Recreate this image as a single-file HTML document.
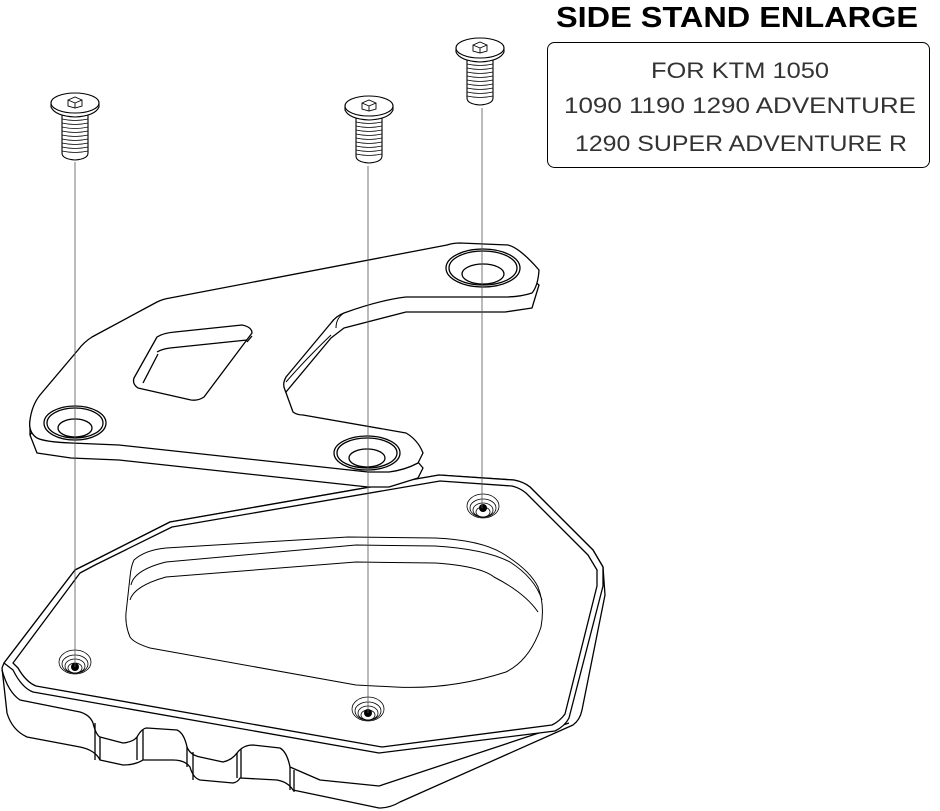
<!DOCTYPE html>
<html><head><meta charset="utf-8"><style>
html,body{margin:0;padding:0;background:#fff;}
svg{display:block;}
text{font-family:"Liberation Sans",sans-serif;}
</style></head><body>
<svg width="940" height="811" viewBox="0 0 940 811" xmlns="http://www.w3.org/2000/svg">
<g fill="none" stroke="#000" stroke-width="1.3" stroke-linejoin="round">

<!-- PAD side faces (bottom silhouette) -->
<path fill="#fff" d="M2,668 L7,713 Q12,730 27,737 L80,747 Q95,750 100,760 L123,765 Q135,765 143,760 L173,760 Q185,760 190,767 Q193,778 200,780 L233,783 Q238,782 240,778 L277,780 Q288,782 293,790 L379,808 Q390,808 400,802 L573,725 Q580,720 582,710 L605,595 L603,567 L593,550 L530,487 Q524,482 514,480 L439,475 L170,522 L91,562 L75,570 L4,663 Z"/>
<path d="M2,670 Q8,692 20,700 L80,712 Q90,715 93,723 Q96,735 100,737 L123,743 Q133,742 137,737 Q142,728 147,728 L177,730 Q184,733 187,747 Q190,755 200,757 L223,762 Q232,760 237,753 Q243,745 253,745 L280,748 Q287,752 290,767 L320,780 L379,786 L569,723"/>
<path d="M95,723 V760 M100,737 V760 M137,737 V760 M143,730 V760 M187,747 V767 M193,752 V780 M237,753 V778 M241,749 V778 M290,767 V790 M294,770 V792"/>
<!-- top face outline -->
<path fill="#fff" d="M4,663 L75,570 L91,562 L170,522 L439,475 L514,480 Q524,482 530,487 L593,550 L603,567 L603,586 L569,718 Q565,726 555,731 L379,753 L33,692 Q22,688 13,670 Z"/>
<path d="M13,663 L80,573 L95,565 L172,527 L440,481 L512,486 Q520,488 526,493 L588,555 L597,570 L597,586 L565,714 Q560,721 552,725 L382,747 L36,686 Q26,682 18,668 Z"/>
<!-- recess -->
<path d="M134,560 Q145,550 166,548 L348,537 L435,538 Q480,540 502,553 Q530,570 538,587 Q545,605 541,627 Q530,660 506,672 Q450,690 395,687 L356,685 L150,648 Q134,643 130,637 Q125,625 126,613 L130,577 Q131,566 134,560 Z" stroke-width="1"/>
<path d="M131,585 Q134,570 166,562 L356,545 L435,546 Q485,549 510,562 Q535,578 542,600" stroke-width="1"/>
<path d="M130,600 Q134,586 166,577 L356,562 L435,563 Q480,566 494,577 Q525,593 538,612" stroke-width="1"/>
<!-- threaded holes -->
<g stroke-width="0.8">
<ellipse cx="75" cy="662" rx="16" ry="12"/><ellipse cx="75" cy="664" rx="13" ry="9"/><ellipse cx="75" cy="666" rx="10" ry="7"/><ellipse cx="75" cy="668" rx="7" ry="5"/>
<ellipse cx="368" cy="709" rx="16" ry="12"/><ellipse cx="368" cy="711" rx="13" ry="9"/><ellipse cx="368" cy="713" rx="10" ry="7"/><ellipse cx="368" cy="715" rx="7" ry="5"/>
<ellipse cx="483" cy="506" rx="16" ry="12"/><ellipse cx="483" cy="508" rx="13" ry="9"/><ellipse cx="483" cy="510" rx="10" ry="7"/><ellipse cx="483" cy="512" rx="7" ry="5"/>
</g>
<g fill="#000" stroke="none"><circle cx="75" cy="667" r="4"/><circle cx="368" cy="713" r="4"/><circle cx="483" cy="508" r="4"/></g>

<!-- BRACKET thickness -->
<path fill="#fff" transform="translate(0,15)" d="M30,420 L78,350 L92,337 L157,302 L170,298 L447,245 L460,243 L508,245 L539,270 L532,293 L505,297 L406,297 L344,313 L331,323 L286,377 L285,390 L293,412 L303,415 L406,433 L423,453 L418,463 L389,472 L368,472 L119,445 L71,443 L37,438 Z"/>
<path d="M30,420 V435"/>
<!-- bracket top -->
<path fill="#fff" d="M30,420 Q32,405 40,395 L78,350 Q84,342 92,337 L157,302 Q163,299 170,298 L447,245 Q453,243 460,243 L508,245 Q520,248 539,270 Q538,286 532,293 Q520,297 505,297 L406,297 Q380,300 344,313 Q336,316 331,323 L286,377 Q282,384 285,390 L293,412 Q297,415 303,415 L406,433 Q418,440 423,453 L418,463 Q405,470 389,472 L368,472 L119,445 L71,443 Q45,442 37,438 Q28,432 30,420 Z"/>
<!-- diamond hole -->
<path fill="#fff" d="M157,337 Q163,333 175,332 L242,325 Q252,327 252,333 L204,397 Q198,401 191,400 L138,388 Q132,384 134,378 Z"/>
<path d="M157,352 Q162,349 170,348 L247,340 M143,383 L158,354 M252,336 L247,342"/>
<path d="M331,335 Q305,360 286,382 M344,313 Q336,318 336,328" stroke-width="1"/>
<!-- bracket holes -->
<ellipse cx="75" cy="423" rx="31" ry="17" fill="#fff"/><ellipse cx="75" cy="423" rx="28" ry="15"/><ellipse cx="75" cy="428" rx="17" ry="9"/>
<ellipse cx="367" cy="453" rx="33" ry="17" fill="#fff"/><ellipse cx="367" cy="453" rx="30" ry="15"/><ellipse cx="367" cy="458" rx="18" ry="9"/>
<ellipse cx="483" cy="268" rx="37" ry="19" fill="#fff"/><ellipse cx="483" cy="268" rx="34" ry="17"/><ellipse cx="483" cy="274" rx="21" ry="10"/>
</g>

<!-- center lines -->
<g stroke="#555" stroke-width="0.8">
<line x1="75" y1="162" x2="75" y2="667"/>
<line x1="368" y1="166" x2="368" y2="713"/>
<line x1="482" y1="108" x2="482" y2="508"/>
</g>

<!-- screws -->
<defs>
<g id="screw" fill="#fff" stroke="#000" stroke-width="1.1">
<path d="M-13,12 V50 Q-13,56 0,57 Q13,56 13,50 V12 Z"/>
<path stroke-width="0.7" d="M-13,16 Q0,19 13,16 M-13,20 Q0,23 13,20 M-13,24 Q0,27 13,24 M-13,28 Q0,31 13,28 M-13,32 Q0,35 13,32 M-13,36 Q0,39 13,36 M-13,40 Q0,43 13,40 M-13,44 Q0,47 13,44 M-13,48 Q0,51 13,48"/>
<path d="M-24,0 V4 Q-20,13 0,14 Q20,13 24,4 V0"/>
<ellipse cx="0" cy="0" rx="24" ry="10"/>
<path stroke-width="0.9" d="M-7,-3 L0,-6 L7,-3 L7,3 L0,5 L-7,3 Z M0,0 L0,5 M0,0 L-7,-3 M0,0 L7,-3"/>
</g>
</defs>
<use href="#screw" x="75" y="103"/>
<use href="#screw" x="369" y="106"/>
<use href="#screw" x="480" y="48"/>

<!-- text -->
<text x="737" y="27" font-size="29" text-anchor="middle" font-weight="bold" textLength="362" lengthAdjust="spacingAndGlyphs">SIDE STAND ENLARGE</text>
<rect x="547.5" y="42.5" width="382" height="125" rx="7" fill="none" stroke="#000" stroke-width="1"/>
<g font-size="22" text-anchor="middle" fill="#333">
<text x="740" y="78" textLength="178" lengthAdjust="spacingAndGlyphs">FOR KTM 1050</text>
<text x="740" y="113" textLength="352" lengthAdjust="spacingAndGlyphs">1090 1190 1290 ADVENTURE</text>
<text x="741" y="151" textLength="332" lengthAdjust="spacingAndGlyphs">1290 SUPER ADVENTURE R</text>
</g>
</svg>
</body></html>
